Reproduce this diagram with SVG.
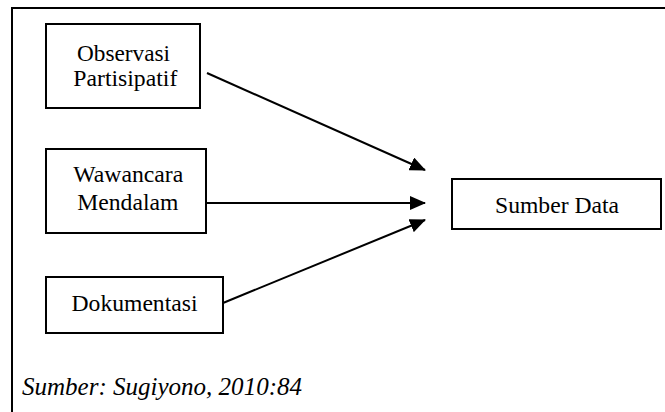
<svg xmlns="http://www.w3.org/2000/svg" width="665" height="412" viewBox="0 0 665 412">
<style>
.box{fill:#fff;stroke:#000;stroke-width:2}
.edge{stroke:#000;stroke-width:2;fill:none;marker-end:url(#ah)}
</style>
<defs>
<marker id="ah" markerWidth="16" markerHeight="14" refX="15" refY="7" orient="auto" markerUnits="userSpaceOnUse">
<path d="M0,0 L16,7 L0,14 Z" fill="#000"/>
</marker>
</defs>
<rect width="665" height="412" fill="#fff"/>
<path d="M12,412 L12,8 L665,8" fill="none" stroke="#000" stroke-width="2"/>
<g font-family="Liberation Serif, DejaVu Serif, serif" font-size="24" text-anchor="middle" fill="#000">
<g id="observasi">
<rect class="box" x="46" y="24" width="154" height="84"/>
<text x="123.5" y="61" textLength="93" lengthAdjust="spacingAndGlyphs">Observasi</text>
<text x="125.3" y="86" textLength="104" lengthAdjust="spacingAndGlyphs">Partisipatif</text>
</g>
<g id="wawancara">
<rect class="box" x="46" y="149" width="160" height="84"/>
<text x="128.3" y="182" textLength="110" lengthAdjust="spacingAndGlyphs">Wawancara</text>
<text x="127.8" y="209.5" textLength="101" lengthAdjust="spacingAndGlyphs">Mendalam</text>
</g>
<g id="dokumentasi">
<rect class="box" x="46" y="277" width="177" height="56"/>
<text x="134.5" y="311" textLength="126" lengthAdjust="spacingAndGlyphs">Dokumentasi</text>
</g>
<g id="sumber-data">
<rect class="box" x="452" y="179" width="209" height="50"/>
<text x="557" y="212.7" textLength="124" lengthAdjust="spacingAndGlyphs">Sumber Data</text>
</g>
</g>
<g id="connectors">
<line class="edge" x1="207" y1="73" x2="425" y2="170"/>
<line class="edge" x1="206" y1="203" x2="425" y2="203"/>
<line class="edge" x1="223" y1="303" x2="425" y2="220"/>
</g>
<text x="22" y="395" font-family="Liberation Serif, DejaVu Serif, serif" font-size="25" font-style="italic" fill="#000" textLength="280" lengthAdjust="spacingAndGlyphs">Sumber: Sugiyono, 2010:84</text>
</svg>
